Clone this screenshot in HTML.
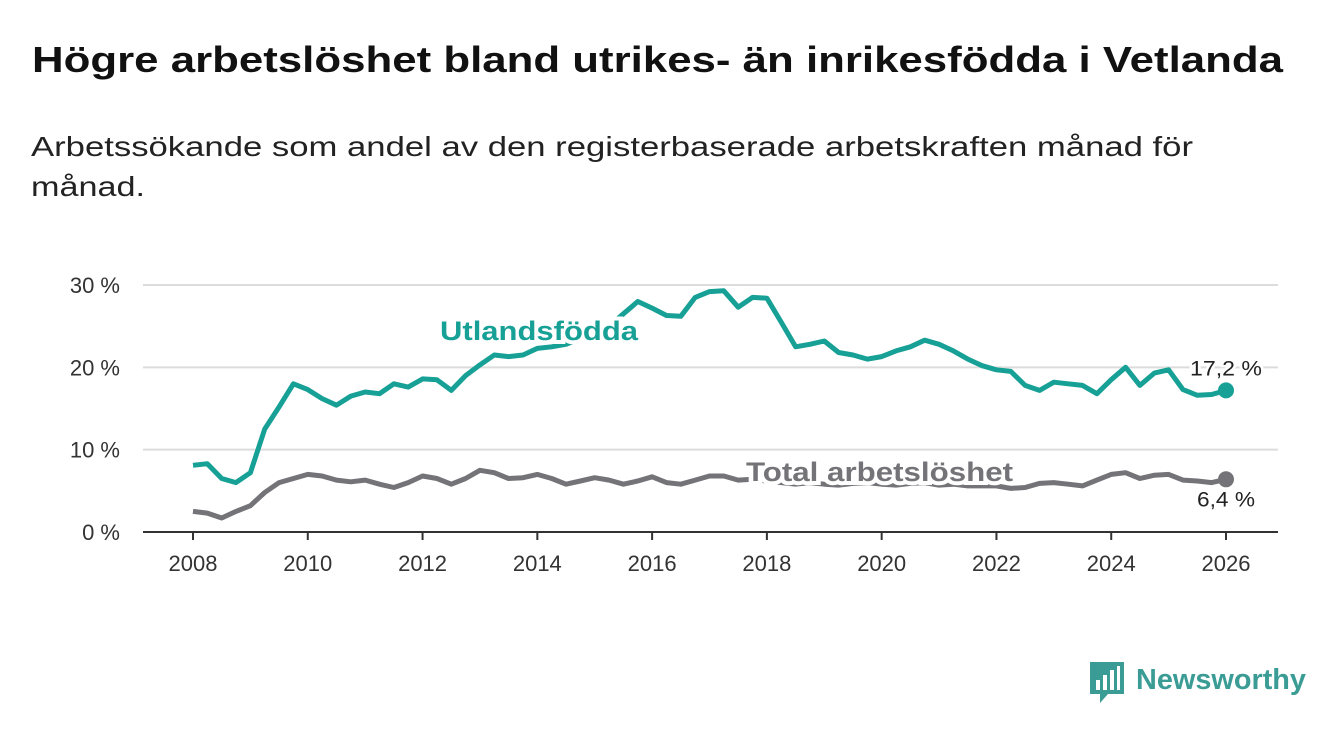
<!DOCTYPE html>
<html><head><meta charset="utf-8"><style>
body{margin:0;background:#fff;width:1340px;height:734px;overflow:hidden;font-family:"Liberation Sans","DejaVu Sans",sans-serif}
svg{position:absolute;left:0;top:0}
</style></head><body>
<svg id="c" width="1340" height="734">
<text x="32" y="72" font-size="36" font-weight="bold" fill="#111" textLength="1251" lengthAdjust="spacingAndGlyphs">Högre arbetslöshet bland utrikes- än inrikesfödda i Vetlanda</text>
<text font-size="28" fill="#222"><tspan x="31" y="156" textLength="1162" lengthAdjust="spacingAndGlyphs">Arbetssökande som andel av den registerbaserade arbetskraften månad för</tspan><tspan x="31" y="196" textLength="114" lengthAdjust="spacingAndGlyphs">månad.</tspan></text>
</svg>
<script>
const years=[2008,2010,2012,2014,2016,2018,2020,2022,2024,2026];
const yTicks=[0,10,20,30];
const startYear=2008, step=0.25;
const utland=[8.1,8.3,6.5,6.0, 7.2,12.5,15.2,18.0, 17.3,16.2,15.4,16.5, 17.0,16.8,18.0,17.6, 18.6,18.5,17.2,19.0, 20.3,21.5,21.3,21.5, 22.3,22.5,22.8,23.5, 24.0,25.0,26.5,28.0, 27.2,26.3,26.2,28.5, 29.2,29.3,27.3,28.5, 28.4,25.5,22.5,22.8, 23.2,21.8,21.5,21.0, 21.3,22.0,22.5,23.3, 22.8,22.0,21.0,20.2, 19.7,19.5,17.8,17.2, 18.2,18.0,17.8,16.8, 18.5,20.0,17.8,19.3, 19.7,17.3,16.6,16.7, 17.2];
const total=[2.5,2.3,1.7,2.5, 3.2,4.8,6.0,6.5, 7.0,6.8,6.3,6.1, 6.3,5.8,5.4,6.0, 6.8,6.5,5.8,6.5, 7.5,7.2,6.5,6.6, 7.0,6.5,5.8,6.2, 6.6,6.3,5.8,6.2, 6.7,6.0,5.8,6.3, 6.8,6.8,6.3,6.4, 6.2,6.0,5.8,6.0, 5.8,5.7,5.9,6.0, 5.8,5.7,5.9,6.0, 5.7,5.8,5.6,5.6, 5.6,5.3,5.4,5.9, 6.0,5.8,5.6,6.3, 7.0,7.2,6.5,6.9, 7.0,6.3,6.2,6.0, 6.4];
const X=y=>193+(y-2008)*(1226-193)/18;
const Y=v=>532-v*(532-285)/30;
const s=document.getElementById('c'),NS='http://www.w3.org/2000/svg';
function el(t,a,txt){const e=document.createElementNS(NS,t);for(const k in a)e.setAttribute(k,a[k]);if(txt!==undefined)e.textContent=txt;s.appendChild(e);return e;}
yTicks.forEach(v=>{
 if(v>0){const g=el('line',{x1:143,x2:1278,y1:Y(v),y2:Y(v),stroke:'#dcdcdc','stroke-width':2});
 
 }
 const t=el('text',{x:120,y:Y(v)+8,'text-anchor':'end','font-size':22,fill:'#333'},v+' %');
 
 
});
const ax=el('line',{x1:143,x2:1278,y1:532,y2:532,stroke:'#333','stroke-width':2});


years.forEach(y=>{
 el('line',{x1:X(y),x2:X(y),y1:532,y2:540,stroke:'#333','stroke-width':2});
 const t=el('text',{x:X(y),y:571,'text-anchor':'middle','font-size':22,fill:'#333'},y);
 
 
});
function line(arr,col,name){
 const d=arr.map((v,i)=>(i?'L':'M')+X(startYear+i*step).toFixed(1)+','+Y(v).toFixed(1)).join('');
 const p=el('path',{d:d,fill:'none',stroke:col,'stroke-width':5,'stroke-linejoin':'round'});
 
 
 const n=arr.length-1;
 const c=el('circle',{cx:X(startYear+n*step),cy:Y(arr[n]),r:8,fill:col});
 
 
}
line(total,'#737378','total-line');
line(utland,'#17a095','utlandsfodda-line');
function lab(x,y,txt,col,name,w,len){
 const t=el('text',{x:x,y:y,'font-size':w?27:21,'font-weight':w?'bold':'normal',fill:col,stroke:'#fff','stroke-width':w?8:5,'paint-order':'stroke',textLength:len,lengthAdjust:'spacingAndGlyphs'},txt);
 
 
}
lab(440,340,'Utlandsfödda','#17a095','utlandsfodda-label',1,198);
lab(746,481,'Total arbetslöshet','#737378','total-label',1,267);
const n=utland.length-1;
lab(1190,Y(utland[n])-15,utland[n].toFixed(1).replace('.',',')+' %','#222','utlandsfodda-value',0,72);
lab(1197,Y(total[n])+27,total[n].toFixed(1).replace('.',',')+' %','#222','total-value',0,58);
</script>
<svg width="230" height="50" style="left:1088px;top:660px">
<path d="M2 2h34v32h-16l-8 9v-9h-10z" fill="#3a9c94"/>
<rect x="8" y="20" width="4" height="10" fill="#fff"/><rect x="15" y="15" width="4" height="15" fill="#fff"/><rect x="22" y="10" width="4" height="20" fill="#fff"/><rect x="29" y="6" width="3" height="24" fill="#fff"/>
<text x="48" y="29" font-size="29" font-weight="bold" fill="#3a9c94" font-family="Liberation Sans,sans-serif" textLength="170" lengthAdjust="spacingAndGlyphs">Newsworthy</text>
</svg>
</body></html>
